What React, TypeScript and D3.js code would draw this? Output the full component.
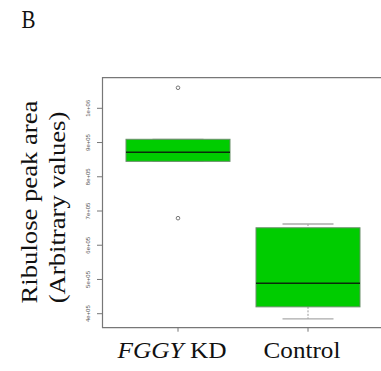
import React from "react";
import * as d3 from "d3";

const categories = ["FGGY KD", "Control"];
const lowerWhisker = [846000, 385000];
const q1 = [845000, 420000];
const median = [871500, 489000];
const q3 = [909500, 651000];
const upperWhisker = [909500, 662000];
const outliers = [[1060000, 679000], []];
const yTicks = [400000, 500000, 600000, 700000, 800000, 900000, 1000000];
const yTickLabels = ["4e+05", "5e+05", "6e+05", "7e+05", "8e+05", "9e+05", "1e+06"];

const W = 381;
const H = 371;
const plotLeft = 102.5;
const plotTop = 77.7;
const plotBottom = 327.7;

export default function App() {
  const y = d3.scaleLinear().domain([400000, 1000000]).range([313.7, 108.3]);
  const x = d3.scalePoint<string>().domain(categories).range([178, 308]);
  const boxW = 104;
  const stapleW = 51;
  const serif = "'Liberation Serif', 'Times New Roman', serif";
  const sans = "'Liberation Sans', Arial, sans-serif";

  return (
    <svg width={W} height={H} style={{ position: "absolute", left: 0, top: 0 }}>
      <rect x={0} y={0} width={W} height={H} fill="#fff" />
      <text transform="translate(21.5,28) scale(1,1.22)" fontFamily={serif} fontSize={21} fill="#111">B</text>

      {/* Y axis title */}
      <text
        transform={`translate(37,202) rotate(-90) scale(1.16,1)`}
        textAnchor="middle"
        fontFamily={serif}
        fontSize={23}
        fill="#111"
      >Ribulose peak area</text>
      <text
        transform={`translate(65,207.5) rotate(-90) scale(1.16,1)`}
        textAnchor="middle"
        fontFamily={serif}
        fontSize={23}
        fill="#111"
      >(Arbitrary values)</text>

      {/* frame */}
      <path
        d={`M${W + 2},${plotTop}H${plotLeft}V${plotBottom}H${W + 2}`}
        fill="none"
        stroke="#777"
        strokeWidth={1.2}
      />

      {/* y ticks */}
      {yTicks.map((t, i) => (
        <g key={t}>
          <line x1={plotLeft - 5.5} x2={plotLeft} y1={y(t)} y2={y(t)} stroke="#777" strokeWidth={1} />
          <text
            transform={`translate(89.5,${y(t)}) rotate(-90)`}
            textAnchor="middle"
            fontFamily={sans}
            fontSize={6}
            fill="#555"
          >{yTickLabels[i]}</text>
        </g>
      ))}

      {/* x ticks */}
      {categories.map((c) => (
        <line key={c} x1={x(c)!} x2={x(c)!} y1={plotBottom} y2={plotBottom + 4} stroke="#777" strokeWidth={1} />
      ))}

      {/* boxes */}
      {categories.map((c, i) => {
        const cx = x(c)!;
        return (
          <g key={c}>
            <line x1={cx} x2={cx} y1={y(upperWhisker[i])} y2={y(q3[i])} stroke="#999" strokeDasharray="2,1.5" />
            <line x1={cx} x2={cx} y1={y(q1[i])} y2={y(lowerWhisker[i])} stroke="#999" strokeDasharray="2,1.5" />
            <line x1={cx - stapleW / 2} x2={cx + stapleW / 2} y1={y(upperWhisker[i])} y2={y(upperWhisker[i])} stroke="#aaa" strokeWidth={1.3} />
            <line x1={cx - stapleW / 2} x2={cx + stapleW / 2} y1={y(lowerWhisker[i])} y2={y(lowerWhisker[i])} stroke="#aaa" strokeWidth={1.3} />
            <rect
              x={cx - boxW / 2}
              y={y(q3[i])}
              width={boxW}
              height={y(q1[i]) - y(q3[i])}
              fill="#00cc00"
              stroke="#6b8f6b"
              strokeWidth={1}
            />
            <line x1={cx - boxW / 2} x2={cx + boxW / 2} y1={y(median[i])} y2={y(median[i])} stroke="#0a2a0a" strokeWidth={1.5} />
            {outliers[i].map((v, j) => (
              <circle key={j} cx={cx} cy={y(v)} r={1.8} fill="none" stroke="#777" strokeWidth={1} />
            ))}
          </g>
        );
      })}

      {/* x labels */}
      <text transform="translate(172,357.5) scale(1.08,1)" textAnchor="middle" fontFamily={serif} fontSize={23.5} fill="#111">
        <tspan fontStyle="italic">FGGY</tspan> KD
      </text>
      <text transform="translate(302,357.5) scale(1.07,1)" textAnchor="middle" fontFamily={serif} fontSize={23.5} fill="#111">Control</text>
    </svg>
  );
}
